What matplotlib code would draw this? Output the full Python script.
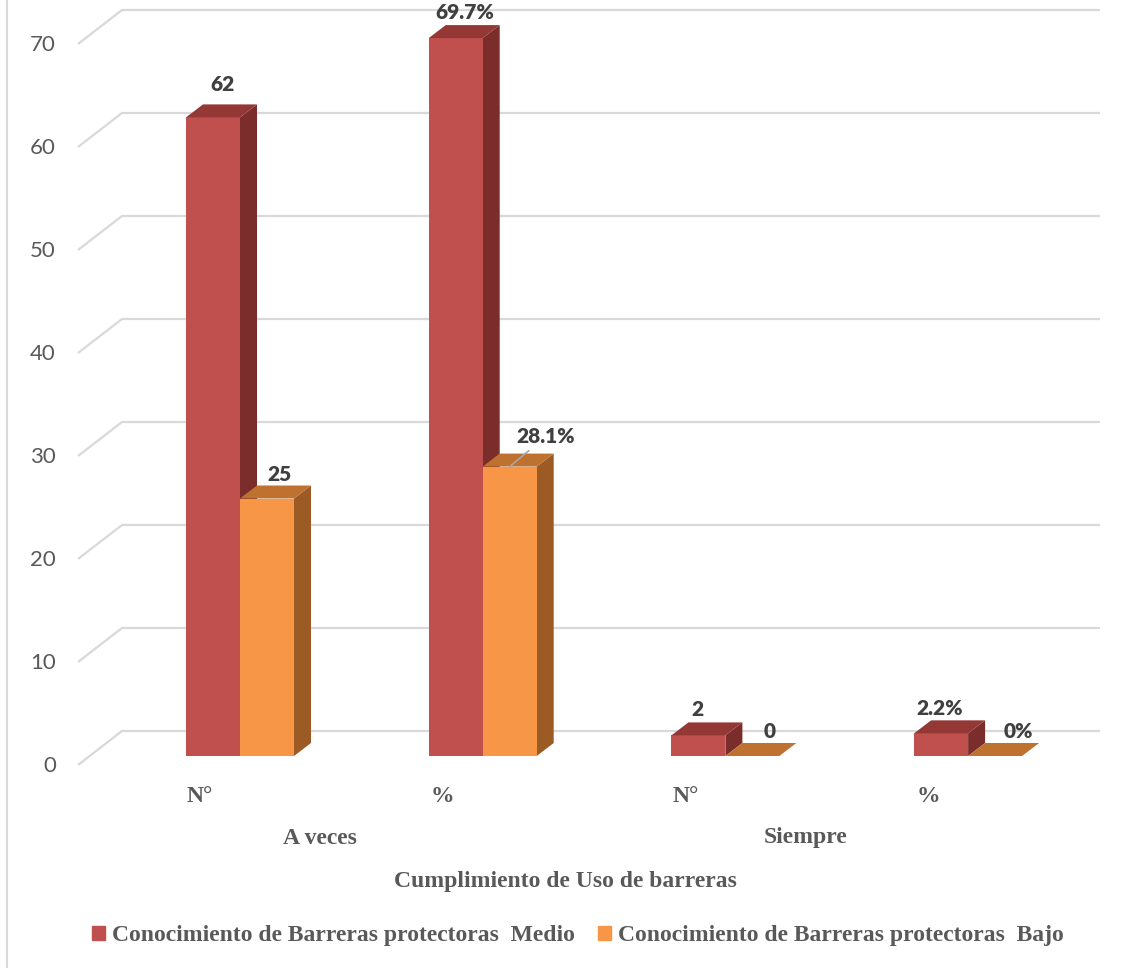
import matplotlib.pyplot as plt
from matplotlib.patches import Polygon, Patch
from matplotlib.lines import Line2D

categories = ['N°', '%', 'N°', '%']
groups = ['A veces', 'Siempre']
medio = [62, 69.7, 2, 2.2]
bajo = [25, 28.1, 0, 0]
medio_labels = ['62', '69.7%', '2', '2.2%']
bajo_labels = ['25', '28.1%', '0', '0%']
yticks = [0, 10, 20, 30, 40, 50, 60, 70]
series_names = ['Conocimiento de Barreras protectoras  Medio',
                'Conocimiento de Barreras protectoras  Bajo']

# colours: front, top, side
red = ('#C0504D', '#943835', '#7A2D2B')
orange = ('#F79646', '#BF7230', '#9C5A25')
grid_c = '#D9D9D9'

# pixel scale of the "bar plane"
XS = 242.7   # px per category
YS = 10.3    # px per value unit
W = 54 / XS  # bar width
BDX, BDY = 17 / XS, 13 / YS  # bar depth

fig = plt.figure(figsize=(11.25, 9.68), dpi=100)
ax = fig.add_axes([0, 0, 1, 1])
ax.set_xlim(-240 / XS, (1125 - 240) / XS)
ax.set_ylim(-212 / YS, 756 / YS)
ax.axis('off')

# back wall gridlines with the floor-depth diagonal
fx, bx, rx = (78 - 240) / XS, (122 - 240) / XS, (1100 - 240) / XS
fdy, bdy = -9 / YS, 25 / YS
for v in yticks:
    ax.plot([fx, bx, rx], [v + fdy, v + bdy, v + bdy], color=grid_c, lw=1.6,
            zorder=0, solid_capstyle='butt')
    ax.text(fx - 22 / XS, v - 10 / YS, str(v), ha='right', va='center',
            fontsize=16, color='#595959', family='Lato')


def bar3d(x0, v, cols, z):
    front, top, side = cols
    if v > 0:
        ax.add_patch(Polygon([(x0 + W, 0), (x0 + W, v), (x0 + W + BDX, v + BDY),
                              (x0 + W + BDX, BDY)], closed=True, fc=side, ec='none', zorder=z))
        ax.bar(x0, v, W, align='edge', color=front, zorder=z + 0.1)
    ax.add_patch(Polygon([(x0, v), (x0 + W, v), (x0 + W + BDX, v + BDY), (x0 + BDX, v + BDY)],
                         closed=True, fc=top, ec='none', zorder=z + 0.2))


for i in range(len(categories)):
    bar3d(i - W, medio[i], red, 2)
    bar3d(i, bajo[i], orange, 3)

lab_kw = dict(textcoords='offset pixels', ha='center', va='center', fontsize=15,
              fontweight='heavy', color='#404040', family='Lato', zorder=5)
med_off = [(9, 33), (9, 26), (-1, 26), (-1, 25)]
baj_off = [(13, 24), (36, 30), (17, 25), (23, 25)]
for i in range(len(categories)):
    ax.annotate(medio_labels[i], (i - W / 2, medio[i]), xytext=med_off[i], **lab_kw)
    if i == 1:
        ax.annotate(bajo_labels[i], (i + W / 2, bajo[i]), xytext=baj_off[i],
                    arrowprops=dict(arrowstyle='-', color='#A6A6A6', lw=1.2,
                                    shrinkA=2, shrinkB=0), **lab_kw)
    else:
        ax.annotate(bajo_labels[i], (i + W / 2, bajo[i]), xytext=baj_off[i], **lab_kw)

serif = dict(family='Liberation Serif', fontweight='bold', color='#595959')
for i, c in enumerate(categories):
    ax.text(i - 40 / XS, -41 / YS, c, ha='center', va='center', fontsize=17, **serif)
for g, name in enumerate(groups):
    ax.text(2 * g + 0.5 - 41 / XS, -82 / YS, name, ha='center', va='center',
            fontsize=17, **serif)

fig.text(565 / 1125, 1 - 881 / 968, 'Cumplimiento de Uso de barreras', ha='center',
         va='center', fontsize=17, **serif)

handles = [Patch(color=red[0]), Patch(color=orange[0])]
leg = fig.legend(handles, series_names, loc='center', ncol=2,
                 bbox_to_anchor=(578 / 1125, 1 - 936 / 968), frameon=False,
                 handlelength=0.55, handleheight=0.55, handletextpad=0.3,
                 columnspacing=1.0,
                 prop=dict(family='Liberation Serif', weight='bold', size=17))
for t in leg.get_texts():
    t.set_color('#595959')

fig.add_artist(Line2D([7 / 1125, 7 / 1125], [0, 1], color=grid_c, lw=1.5,
                      transform=fig.transFigure))

fig.savefig('out.png', dpi=100)
